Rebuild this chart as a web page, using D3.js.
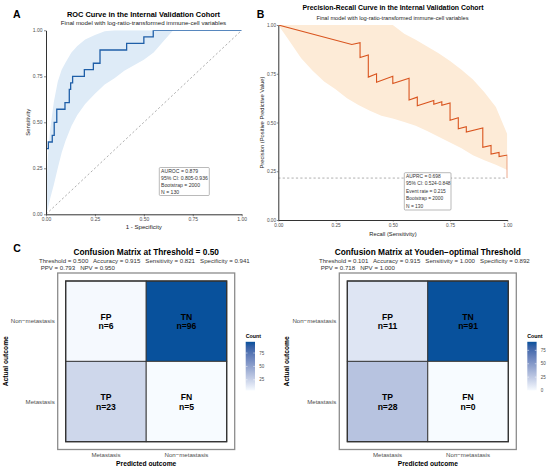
<!DOCTYPE html>
<html lang="en">
<head>
<meta charset="UTF-8">
<title>Model performance in the internal validation cohort</title>
<script src="https://d3js.org/d3.v7.min.js"></script>
<style>
  body { margin: 0; background: #fff; }
  svg { font-family: "Liberation Sans", Arial, sans-serif; }
</style>
</head>
<body>
<script>
// ---- panel A: ROC curve (step points) ----
const rocFpr = [0, 0, 0.012, 0.012, 0.032, 0.032, 0.042, 0.042, 0.055, 0.055, 0.097, 0.097, 0.119, 0.119, 0.126, 0.126,
                0.136, 0.136, 0.196, 0.196, 0.242, 0.242, 0.276, 0.276, 0.412, 0.412, 0.5, 0.5, 0.548, 0.548, 1];
const rocTpr = [0, 0.357, 0.357, 0.393, 0.393, 0.429, 0.429, 0.5, 0.5, 0.571, 0.571, 0.607, 0.607, 0.679, 0.679, 0.714,
                0.714, 0.75, 0.75, 0.786, 0.786, 0.821, 0.821, 0.893, 0.893, 0.929, 0.929, 0.964, 0.964, 1, 1];
// bootstrap band
const rocBandFpr  = [0, 0.01, 0.02, 0.04, 0.06, 0.08, 0.1, 0.13, 0.16, 0.2, 0.25, 0.3, 0.35, 0.4, 0.45, 0.5, 0.55, 0.6, 0.65, 0.7, 1];
const rocBandLow  = [0, 0.03, 0.08, 0.16, 0.25, 0.335, 0.4, 0.48, 0.54, 0.6, 0.655, 0.705, 0.74, 0.78, 0.81, 0.84, 0.88, 0.94, 1, 1, 1];
const rocBandHigh = [0.1, 0.32, 0.45, 0.61, 0.72, 0.785, 0.825, 0.88, 0.915, 0.95, 0.975, 0.995, 1, 1, 1, 1, 1, 1, 1, 1, 1];
const rocStats = ["AUROC = 0.879", "95% CI: 0.805-0.936", "Bootstrap = 2000", "N = 130"];

// ---- panel B: precision-recall curve ----
const prRecall = [0, 0.321, 0.357, 0.357, 0.393, 0.393, 0.429, 0.429, 0.5, 0.5, 0.571, 0.571, 0.607, 0.607, 0.679, 0.679,
                  0.714, 0.714, 0.75, 0.75, 0.786, 0.786, 0.821, 0.821, 0.893, 0.893, 0.929, 0.929, 0.964, 0.964, 1, 1];
const prPrecision = [1, 0.9, 0.909, 0.833, 0.846, 0.733, 0.75, 0.706, 0.737, 0.7, 0.727, 0.615, 0.63, 0.586, 0.613, 0.594,
                     0.606, 0.588, 0.6, 0.512, 0.524, 0.468, 0.479, 0.451, 0.472, 0.373, 0.382, 0.338, 0.346, 0.325, 0.333, 0.215];
const prBandRecall = [0, 0.05, 0.1, 0.15, 0.2, 0.25, 0.3, 0.35, 0.4, 0.45, 0.5, 0.55, 0.6, 0.65, 0.7, 0.75, 0.8, 0.85, 0.9, 0.95, 1];
const prBandLow  = [1, 0.915, 0.83, 0.765, 0.71, 0.67, 0.625, 0.59, 0.56, 0.535, 0.52, 0.503, 0.483, 0.457, 0.427, 0.397, 0.368, 0.332, 0.306, 0.283, 0.256];
const prBandHigh = [1, 1, 1, 1, 1, 1, 1, 1, 1, 1, 1, 0.955, 0.925, 0.89, 0.855, 0.815, 0.77, 0.72, 0.655, 0.58, 0.44];
const eventRate = 0.215;
const prStats = ["AUPRC = 0.698", "95% CI: 0.524-0.848", "Event rate = 0.215", "Bootstrap = 2000", "N = 130"];

const axisTicks = [0, 0.25, 0.5, 0.75, 1];

// ---- panel C: confusion matrices ----
const cmPredicted = ["Metastasis", "Non\u2212metastasis"];
const cmActual = ["Non\u2212metastasis", "Metastasis"];
const cellNames = ["FP", "TN", "TP", "FN"];
const cellPredicted = ["Metastasis", "Non\u2212metastasis", "Metastasis", "Non\u2212metastasis"];
const cellActual = ["Non\u2212metastasis", "Non\u2212metastasis", "Metastasis", "Metastasis"];
const countsFixed = [6, 96, 23, 5];
const countsYouden = [11, 91, 28, 0];
const legendTicksFixed = [25, 50, 75];
const legendTicksYouden = [0, 25, 50, 75];

const svg = d3.select("body").append("svg")
    .attr("width", 550)
    .attr("height", 470);

function label(x, y, str, size, opts = {}) {
    const t = svg.append("text")
        .attr("x", x)
        .attr("y", y)
        .attr("font-size", size)
        .attr("font-weight", opts.bold ? "bold" : null)
        .attr("text-anchor", opts.anchor || "start")
        .attr("fill", opts.fill || "#000")
        .style("white-space", "pre")
        .text(str);
    if (opts.rotate) t.attr("transform", `rotate(-90,${x},${y})`);
    return t;
}

function styleAxis(g, size) {
    g.attr("font-size", size).attr("font-family", null);
    g.select(".domain").attr("stroke", "#333").attr("stroke-width", 1);
    g.selectAll(".tick line").attr("stroke", "#333").attr("stroke-width", 0.6);
    g.selectAll(".tick text").attr("fill", "#4d4d4d");
}

function statBox(x, y, w, h, lines, size, step) {
    svg.append("rect")
        .attr("x", x).attr("y", y).attr("width", w).attr("height", h)
        .attr("rx", 1).attr("fill", "#fff")
        .attr("stroke", "#8c8c8c").attr("stroke-width", 0.6);
    lines.forEach((s, i) => label(x + 1.8, y + 5.3 + i * step, s, size, {fill: "#333"}));
}

// =============== A ===============
const xA = d3.scaleLinear().domain([0, 1]).range([46, 241.7]);
const yA = d3.scaleLinear().domain([0, 1]).range([214.3, 30.3]);

svg.append("clipPath").attr("id", "clipA").append("rect")
    .attr("x", xA(0)).attr("y", yA(1)).attr("width", xA(1) - xA(0)).attr("height", yA(0) - yA(1));

const gA = svg.append("g").attr("clip-path", "url(#clipA)");

gA.append("path")
    .datum(d3.range(rocBandFpr.length))
    .attr("fill", "#deebf7")
    .attr("d", d3.area()
        .x(i => xA(rocBandFpr[i]))
        .y0(i => yA(rocBandLow[i]))
        .y1(i => yA(rocBandHigh[i])));

gA.append("line")
    .attr("x1", xA(0)).attr("y1", yA(0)).attr("x2", xA(1)).attr("y2", yA(1))
    .attr("stroke", "#9a9a9a").attr("stroke-width", 0.8).attr("stroke-dasharray", "2.2,2.2");

gA.append("path")
    .datum(d3.range(rocFpr.length))
    .attr("fill", "none")
    .attr("stroke", "#1f5fa8")
    .attr("stroke-width", 1.3)
    .attr("d", d3.line().x(i => xA(rocFpr[i])).y(i => yA(rocTpr[i])));

svg.append("g")
    .attr("transform", `translate(0,${yA(0)})`)
    .call(d3.axisBottom(xA).tickValues(axisTicks).tickFormat(d3.format(".2f"))
        .tickSize(2).tickSizeOuter(0).tickPadding(1.5))
    .call(g => styleAxis(g, 5));

svg.append("g")
    .attr("transform", `translate(${xA(0)},0)`)
    .call(d3.axisLeft(yA).tickValues(axisTicks).tickFormat(d3.format(".2f"))
        .tickSize(2).tickSizeOuter(0).tickPadding(1.5))
    .call(g => styleAxis(g, 5));

statBox(159.3, 167.5, 50, 28, rocStats, 5.1, 6.9);

label(13, 18.3, "A", 10.5, {bold: true});
label(143.5, 16.7, "ROC Curve in the Internal Validation Cohort", 7.4, {bold: true, anchor: "middle"});
label(143.5, 25.3, "Final model with log-ratio-transformed immune-cell variables", 6.2, {anchor: "middle", fill: "#222"});
label(143.8, 228.7, "1 - Specificity", 6.1, {anchor: "middle", fill: "#222"});
label(30.3, 122.3, "Sensitivity", 6, {anchor: "middle", rotate: true, fill: "#222"});

// =============== B ===============
const xB = d3.scaleLinear().domain([0, 1]).range([278.3, 507.3]);
const yB = d3.scaleLinear().domain([0, 1]).range([220, 25]);

svg.append("clipPath").attr("id", "clipB").append("rect")
    .attr("x", xB(0)).attr("y", yB(1)).attr("width", xB(1) - xB(0)).attr("height", yB(0) - yB(1));

const gB = svg.append("g").attr("clip-path", "url(#clipB)");

gB.append("path")
    .datum(d3.range(prBandRecall.length))
    .attr("fill", "#fdebd7")
    .attr("d", d3.area()
        .x(i => xB(prBandRecall[i]))
        .y0(i => yB(prBandLow[i]))
        .y1(i => yB(prBandHigh[i])));

gB.append("line")
    .attr("x1", xB(0)).attr("x2", xB(1)).attr("y1", yB(eventRate)).attr("y2", yB(eventRate))
    .attr("stroke", "#9a9a9a").attr("stroke-width", 0.8).attr("stroke-dasharray", "2.2,2.2");

gB.append("path")
    .datum(d3.range(prRecall.length))
    .attr("fill", "none")
    .attr("stroke", "#d9541e")
    .attr("stroke-width", 1.1)
    .attr("d", d3.line().x(i => xB(prRecall[i])).y(i => yB(prPrecision[i])));

svg.append("g")
    .attr("transform", `translate(0,${yB(0)})`)
    .call(d3.axisBottom(xB).tickValues(axisTicks).tickFormat(d3.format(".2f"))
        .tickSize(1.5).tickSizeOuter(0).tickPadding(2.5))
    .call(g => styleAxis(g, 4.7));

svg.append("g")
    .attr("transform", `translate(${xB(0)},0)`)
    .call(d3.axisLeft(yB).tickValues(axisTicks).tickFormat(d3.format(".2f"))
        .tickSize(1.5).tickSizeOuter(0).tickPadding(0.8))
    .call(g => styleAxis(g, 4.7));

statBox(404.3, 172.7, 46.7, 37.3, prStats, 4.85, 7.4);

label(256.7, 18.3, "B", 10.5, {bold: true});
label(393, 10.3, "Precision-Recall Curve in the Internal Validation Cohort", 6.9, {bold: true, anchor: "middle"});
label(392.5, 20.2, "Final model with log-ratio-transformed immune-cell variables", 5.7, {anchor: "middle", fill: "#222"});
label(393, 235.8, "Recall (Sensitivity)", 5.75, {anchor: "middle", fill: "#222"});
label(264.1, 122.5, "Precision (Positive Predictive Value)", 5.75, {anchor: "middle", rotate: true, fill: "#222"});

// =============== C ===============
function drawMatrix(cfg) {
    const x = d3.scaleBand().domain(cmPredicted).range([cfg.x0, cfg.x0 + 161]);
    const y = d3.scaleBand().domain(cmActual).range([281, 441.7]);
    const lo = d3.min(cfg.counts), hi = d3.max(cfg.counts);
    const color = d3.scaleLinear().domain([lo, hi])
        .range(["#f7fbff", "#08519c"]).interpolate(d3.interpolateLab);

    // panel frame
    svg.append("rect")
        .attr("x", cfg.x0 - 8).attr("y", 273)
        .attr("width", 161 + 16).attr("height", 176.5)
        .attr("fill", "#fff").attr("stroke", "#8c8c8c").attr("stroke-width", 1.3);

    const cells = d3.range(cfg.counts.length);
    svg.selectAll(null).data(cells).join("rect")
        .attr("x", i => x(cellPredicted[i]))
        .attr("y", i => y(cellActual[i]))
        .attr("width", x.bandwidth())
        .attr("height", y.bandwidth())
        .attr("fill", i => color(cfg.counts[i]))
        .attr("stroke", "#333")
        .attr("stroke-width", 0.9);

    svg.append("rect")
        .attr("x", cfg.x0).attr("y", 281).attr("width", 161).attr("height", 160.7)
        .attr("fill", "none").attr("stroke", "#333").attr("stroke-width", 1.3);

    cells.forEach(i => {
        const cx = x(cellPredicted[i]) + x.bandwidth() / 2;
        const cy = y(cellActual[i]) + y.bandwidth() / 2;
        label(cx, cy - 1.3, cellNames[i], 8.6, {bold: true, anchor: "middle"});
        label(cx, cy + 8, "n=" + cfg.counts[i], 8.6, {bold: true, anchor: "middle"});
    });

    cmActual.forEach(a => label(cfg.x0 - 11, y(a) + y.bandwidth() / 2 + 2.1, a, 6.1, {anchor: "end", fill: "#4d4d4d"}));
    cmPredicted.forEach(p => label(x(p) + x.bandwidth() / 2, 457, p, 6.1, {anchor: "middle", fill: "#4d4d4d"}));
    label(cfg.x0 + 80.5, 465.6, "Predicted outcome", 6.7, {bold: true, anchor: "middle"});
    label(cfg.x0 - 57.8, 361.3, "Actual outcome", 6.7, {bold: true, anchor: "middle", rotate: true});

    label(cfg.x0 + 80.5, 255.2, cfg.title, 8.3, {bold: true, anchor: "middle"});
    label(cfg.statX, 262.6, cfg.stats[0], 6.1, {fill: "#333"});
    label(cfg.statX + 1.7, 269.7, cfg.stats[1], 6.1, {fill: "#333"});

    // colour bar legend
    const gradId = "grad" + cfg.id;
    const grad = svg.append("defs").append("linearGradient")
        .attr("id", gradId).attr("x1", 0).attr("y1", 1).attr("x2", 0).attr("y2", 0);
    d3.range(11).forEach(k => grad.append("stop")
        .attr("offset", k / 10)
        .attr("stop-color", color(lo + (hi - lo) * k / 10)));

    const barY = d3.scaleLinear().domain([lo, hi]).range([390.5, 341.8]);
    label(cfg.legendX, 337.6, "Count", 5.3, {bold: true});
    svg.append("rect")
        .attr("x", cfg.legendX).attr("y", barY(hi))
        .attr("width", 9.3).attr("height", barY(lo) - barY(hi))
        .attr("fill", `url(#${gradId})`);
    cfg.legendTicks.forEach(t => {
        svg.append("line")
            .attr("x1", cfg.legendX).attr("x2", cfg.legendX + 1.8)
            .attr("y1", barY(t)).attr("y2", barY(t))
            .attr("stroke", "#fff").attr("stroke-width", 0.5);
        svg.append("line")
            .attr("x1", cfg.legendX + 7.5).attr("x2", cfg.legendX + 9.3)
            .attr("y1", barY(t)).attr("y2", barY(t))
            .attr("stroke", "#fff").attr("stroke-width", 0.5);
        label(cfg.legendX + 13.5, barY(t) + 1.6, String(t), 4.5, {fill: "#4d4d4d"});
    });
}

label(13.3, 251.7, "C", 10.5, {bold: true});

drawMatrix({
    id: "Fixed",
    x0: 65.7,
    counts: countsFixed,
    title: "Confusion Matrix at Threshold = 0.50",
    stats: ["Threshold = 0.500   Accuracy = 0.915   Sensitivity = 0.821   Specificity = 0.941",
            "PPV = 0.793   NPV = 0.950"],
    statX: 39,
    legendX: 245.7,
    legendTicks: legendTicksFixed
});

drawMatrix({
    id: "Youden",
    x0: 347.3,
    counts: countsYouden,
    title: "Confusion Matrix at Youden\u2212optimal Threshold",
    stats: ["Threshold = 0.101   Accuracy = 0.915   Sensitivity = 1.000   Specificity = 0.892",
            "PPV = 0.718   NPV = 1.000"],
    statX: 319,
    legendX: 527.3,
    legendTicks: legendTicksYouden
});
</script>
</body>
</html>
